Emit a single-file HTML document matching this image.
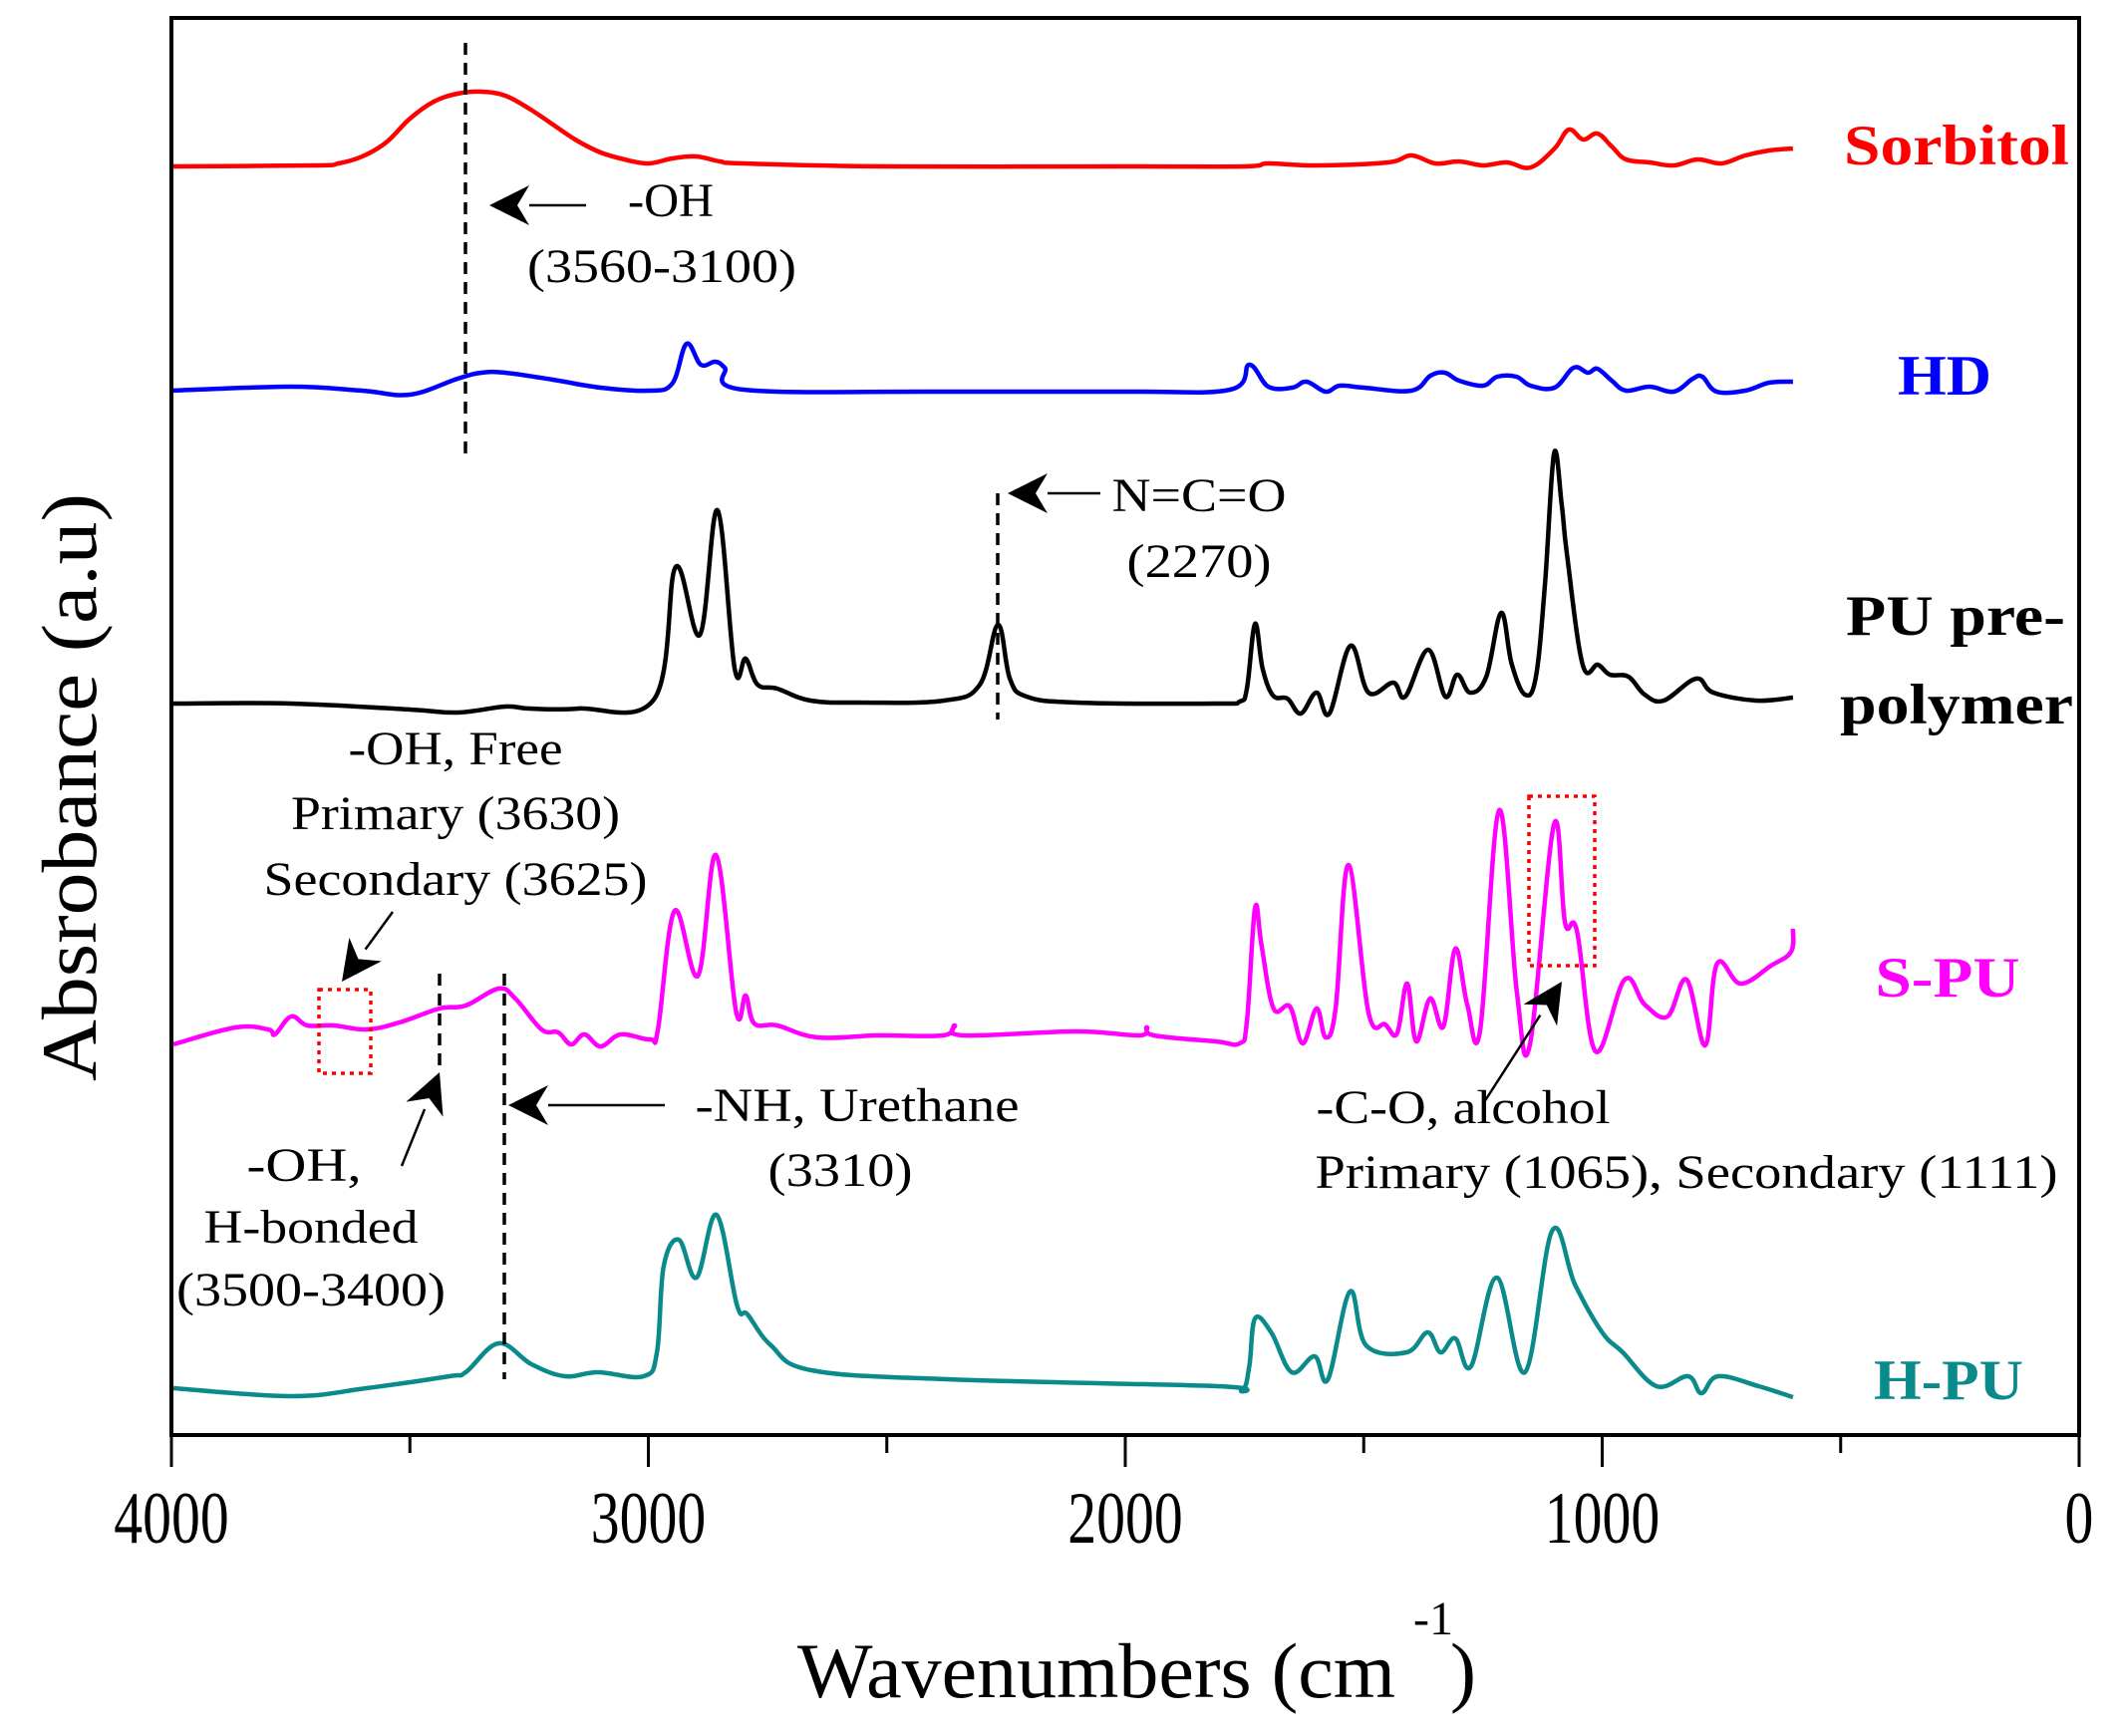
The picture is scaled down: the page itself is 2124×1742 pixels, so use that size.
<!DOCTYPE html>
<html><head><meta charset="utf-8"><style>
html,body{margin:0;padding:0;background:#fff;}
svg{display:block;font-family:"Liberation Serif",serif;}
</style></head><body>
<svg id="chart" width="2124" height="1742" viewBox="0 0 2124 1742" xmlns="http://www.w3.org/2000/svg"></svg>
<script>
// ---- data (wavenumber cm-1 / relative absorbance, a.u.) ----
const xTicks = [4000, 3000, 2000, 1000, 0];
const xMinorTicks = [3500, 2500, 1500, 500];
const seriesNames = ["Sorbitol", "HD", "PU pre-polymer", "S-PU", "H-PU"];
const seriesOffsets = [1273, 1048, 734, 400, 49];

const sorbitolW = [4000,3700,3650,3600,3550,3500,3450,3400,3350,3300,3250,3200,3150,3100,3050,3000,2950,2900,2850,2800,2500,2000,1750,1700,1600,1450,1400,1350,1300,1250,1200,1150,1100,1070,1040,1010,980,950,900,850,800,750,700,650,600];
const sorbitolA = [0,1,3,10,24,48,65,73,75,71,58,42,26,14,7,3,8,10,5,3,0,0,0,3,1,4,11,3,5,1,4,-1,18,37,27,33,20,7,4,1,7,3,11,16,18];

const hdW = [4000,3750,3600,3500,3400,3350,3300,3200,3100,3000,2950,2920,2890,2860,2840,2800,2400,2000,1780,1740,1700,1650,1620,1580,1550,1500,1400,1360,1330,1300,1250,1220,1180,1150,1100,1060,1030,1010,980,950,900,850,810,790,760,700,650,600];
const hdA = [0,4,0,-4,12,18,18,11,3,0,7,47,26,29,23,1,-1,-1,1,26,4,3,9,-1,5,3,0,15,18,10,5,14,14,5,3,23,18,22,10,0,4,-1,12,14,-1,0,8,9];

const puW = [4000,3750,3500,3400,3300,3250,3147,2987,2943,2892,2855,2819,2796,2771,2730,2660,2555,2380,2305,2267,2242,2207,2102,1810,1760,1745,1728,1712,1690,1660,1632,1599,1572,1528,1490,1438,1413,1365,1329,1304,1277,1243,1212,1190,1162,1139,1120,1101,1085,1074,1041,1009,984,945,911,871,803,767,677,600];
const puA = [0,0,-6,-9,-3,-5,-5,5,137,69,194,35,45,19,15,3,1,3,19,79,25,7,1,0,2,15,80,35,8,5,-10,11,-10,58,11,21,7,54,7,29,11,27,91,40,9,27,120,251,200,150,39,39,29,27,9,3,25,11,3,6];

const spuW = [3996,3866,3797,3783,3749,3715,3660,3591,3522,3438,3383,3314,3279,3224,3189,3162,3134,3100,3058,2996,2980,2945,2896,2858,2816,2796,2778,2730,2646,2521,2382,2358,2340,2103,1970,1955,1940,1810,1760,1745,1728,1714,1689,1655,1628,1599,1580,1559,1532,1490,1455,1430,1409,1390,1361,1333,1308,1283,1256,1216,1179,1152,1101,1078,1053,1014,953,911,863,823,784,759,710,646,604,600];
const spuA = [-8,9,7,2,20,11,11,7,14,28,31,48,38,7,4,-8,2,-10,2,-3,7,126,61,182,25,41,13,11,-1,1,1,11,1,5,1,9,1,-5,-7,15,129,90,28,30,-7,28,-1,28,172,24,12,3,53,-5,38,10,88,32,6,227,45,-9,213,114,106,-15,57,32,20,57,-9,73,53,71,85,108];

const hpuW = [3996,3749,3591,3417,3383,3314,3245,3175,3106,3010,2982,2968,2936,2899,2857,2814,2792,2743,2658,2374,1807,1756,1740,1728,1694,1651,1603,1575,1529,1495,1410,1366,1339,1308,1275,1221,1162,1105,1057,1000,957,886,820,792,757,672,600];
const hpuA = [-2,-10,-2,10,14,43,22,10,14,10,34,120,147,109,172,81,72,41,16,7,0,-4,20,68,54,14,30,7,95,41,34,54,34,48,20,109,14,156,102,54,34,0,10,-7,10,0,-11];

// ---- layout ----
const PL=172, PR=2086, PT=18, PB=1440;
const xS = w => PL + (4000 - w) * (PR - PL) / 4000;
const yS = a => PB - a;
const NS = "http://www.w3.org/2000/svg";
const svg = document.getElementById('chart');
function mk(tag, attrs, parent){ const e=document.createElementNS(NS,tag); for(const k in attrs) e.setAttribute(k,attrs[k]); (parent||svg).appendChild(e); return e; }
function txt(str, attrs, parent){ const e=mk('text',attrs,parent); e.textContent=str; return e; }
function smooth(pts){
  let d='M'+pts[0][0].toFixed(1)+','+pts[0][1].toFixed(1);
  const t=0.18;
  for(let i=0;i<pts.length-1;i++){
    const p0=pts[Math.max(0,i-1)],p1=pts[i],p2=pts[i+1],p3=pts[Math.min(pts.length-1,i+2)];
    const c1x=p1[0]+(p2[0]-p0[0])*t, c1y=p1[1]+(p2[1]-p0[1])*t;
    const c2x=p2[0]-(p3[0]-p1[0])*t, c2y=p2[1]-(p3[1]-p1[1])*t;
    d+=`C${c1x.toFixed(1)},${c1y.toFixed(1)} ${c2x.toFixed(1)},${c2y.toFixed(1)} ${p2[0].toFixed(1)},${p2[1].toFixed(1)}`;
  }
  return d;
}

const sData = [[sorbitolW,sorbitolA,'#ff0000','sorbitol'],[hdW,hdA,'#0000ff','hd'],[puW,puA,'#000000','pu-prepolymer'],[spuW,spuA,'#ff00ff','s-pu'],[hpuW,hpuA,'#0a8a8a','h-pu']];
sData.forEach((s,i)=>{
  const [W,A,col,nm]=s;
  const pts = W.map((w,j)=>[xS(w), yS(A[j]+seriesOffsets[i])]);
  const p = mk('path',{d:smooth(pts),fill:'none',stroke:col,'stroke-width':4.5,'stroke-linejoin':'round'});
  
  
});

const frame = mk('rect',{x:PL,y:PT,width:PR-PL,height:PB-PT,fill:'none',stroke:'#000','stroke-width':4});


const xg = mk('g',{});


xTicks.forEach(t=>{
  mk('line',{x1:xS(t),x2:xS(t),y1:PB,y2:PB+32,stroke:'#000','stroke-width':3},xg);
  const l = txt(String(t),{x:xS(t),y:1548,'font-size':74,'text-anchor':'middle',fill:'#000',transform:`translate(${xS(t)},0) scale(0.78,1) translate(${-xS(t)},0)`},xg);
  
  
});
xMinorTicks.forEach(t=>{ mk('line',{x1:xS(t),x2:xS(t),y1:PB,y2:PB+18,stroke:'#000','stroke-width':3},xg); });
</script>
<script>
(function(){
const g = mk('g',{});


function dash(x,y1,y2){ mk('line',{x1:x,x2:x,y1:y1,y2:y2,stroke:'#000','stroke-width':3.5,'stroke-dasharray':'12,8'},g); }
function arrow(x1,y1,x2,y2){
  const ang=Math.atan2(y2-y1,x2-x1), L=40, Wd=20;
  const bx=x2-L*Math.cos(ang), by=y2-L*Math.sin(ang);
  mk('line',{x1:x1,y1:y1,x2:bx,y2:by,stroke:'#000','stroke-width':2.5},g);
  const px=-Math.sin(ang)*Wd, py=Math.cos(ang)*Wd;
  const nx=x2-L*0.7*Math.cos(ang), ny=y2-L*0.7*Math.sin(ang);
  mk('path',{d:`M${x2},${y2} L${bx+px},${by+py} L${nx},${ny} L${bx-px},${by-py}Z`,fill:'#000'},g);
}
function label(s,x,y,len){ const t=txt(s,{x:x,y:y,'font-size':48,'text-anchor':'middle',fill:'#000',textLength:len,lengthAdjust:'spacingAndGlyphs'},g);   }
function redBox(x,y,w,h){ mk('rect',{x:x,y:y,width:w,height:h,fill:'none',stroke:'#ff0000','stroke-width':3.5,'stroke-dasharray':'4,5'},g); }

dash(467,43,455);
arrow(588,206,491,206);
label('-OH',673,217,86); label('(3560-3100)',664,283,270);
dash(1001,495,722);
arrow(1104,495,1011,495);
label('N=C=O',1203,513,175); label('(2270)',1203,579,145);
label('-OH, Free',457,767,215); label('Primary (3630)',457,832,330); label('Secondary (3625)',457,898,385);
arrow(394,915,343,985);
redBox(320,993,52,84);
dash(441,977,1075);
dash(506,977,1384);
arrow(403,1170,441,1076);
label('-OH,',305,1185,115); label('H-bonded',312,1247,215); label('(3500-3400)',312,1310,270);
arrow(667,1109,510,1109);
label('-NH, Urethane',860,1125,325); label('(3310)',843,1190,145);
redBox(1534,799,66,170);
arrow(1489,1106,1567,985);
label('-C-O, alcohol',1468,1127,295); label('Primary (1065), Secondary (1111)',1692,1192,745);

const sl=[['Sorbitol',1963,165,'#ff0000',226],['HD',1951,396,'#0000ff',94],['PU pre-',1962,637,'#000',220],['polymer',1963,726,'#000',234],['S-PU',1954,1000,'#ff00ff',145],['H-PU',1955,1404,'#0a8a8a',150]];
sl.forEach(s=>{ const t=txt(s[0],{x:s[1],y:s[2],'font-size':57,'font-weight':'bold','text-anchor':'middle',fill:s[3],textLength:s[4],lengthAdjust:'spacingAndGlyphs'});   });

const yt = txt('Absrobance (a.u)',{x:0,y:0,'font-size':78,'text-anchor':'middle',fill:'#000',textLength:590,lengthAdjust:'spacingAndGlyphs',transform:'translate(96,790) rotate(-90)'});


const xt = txt('Wavenumbers (cm',{x:1100,y:1703,'font-size':78,'text-anchor':'middle',fill:'#000',textLength:600,lengthAdjust:'spacingAndGlyphs'});


const sup = txt('-1',{x:1418,y:1640,'font-size':48,fill:'#000'});


const cp = txt(')',{x:1455,y:1703,'font-size':78,fill:'#000'});


})();
</script>
</body></html>
